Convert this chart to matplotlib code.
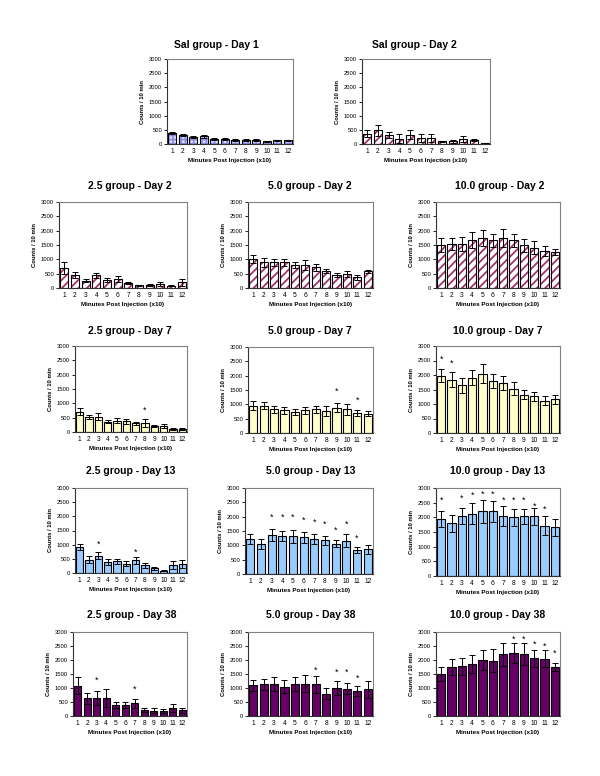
import matplotlib
matplotlib.use("Agg")
import matplotlib.pyplot as plt
import numpy as np

plt.rcParams["font.family"] = ["Liberation Sans", "DejaVu Sans"]
plt.rcParams["hatch.linewidth"] = 1.3

# ── Data: mean counts / 10 min and error (SEM), 12 bins of 10 min ────────────
minutes = list(range(1, 13))

sal_d1_mean = [390, 320, 240, 270, 170, 180, 140, 140, 130, 90, 130, 130]
sal_d1_err = [50, 40, 40, 60, 30, 30, 40, 30, 30, 20, 20, 20]
sal_d2_mean = [360, 480, 330, 190, 330, 210, 210, 90, 90, 170, 150, 40]
sal_d2_err = [130, 180, 110, 150, 160, 130, 150, 20, 40, 110, 40, 10]

g25_d2_mean = [690, 460, 250, 440, 280, 320, 170, 90, 110, 140, 80, 200]
g25_d2_err = [200, 100, 50, 80, 60, 110, 30, 10, 30, 80, 10, 120]
g50_d2_mean = [1010, 890, 890, 890, 790, 810, 720, 600, 460, 500, 370, 580]
g50_d2_err = [150, 150, 130, 120, 100, 170, 130, 80, 60, 100, 90, 50]
g10_d2_mean = [1500, 1530, 1540, 1680, 1740, 1660, 1750, 1670, 1490, 1410, 1290, 1250]
g10_d2_err = [260, 200, 240, 270, 290, 240, 310, 230, 220, 240, 180, 110]

g25_d7_mean = [710, 530, 540, 360, 390, 370, 300, 330, 200, 210, 110, 100]
g25_d7_err = [110, 80, 130, 60, 90, 90, 40, 140, 40, 80, 30, 30]
g50_d7_mean = [950, 950, 820, 790, 730, 790, 820, 770, 880, 830, 690, 680]
g50_d7_err = [160, 120, 110, 110, 100, 130, 130, 180, 150, 190, 110, 90]
g10_d7_mean = [1980, 1840, 1640, 1910, 2050, 1800, 1720, 1530, 1320, 1260, 1120, 1160]
g10_d7_err = [220, 270, 270, 270, 330, 240, 250, 230, 160, 160, 140, 160]

g25_d13_mean = [920, 470, 610, 390, 410, 330, 450, 270, 160, 80, 280, 330]
g25_d13_err = [110, 130, 120, 120, 100, 80, 120, 80, 60, 20, 150, 140]
g50_d13_mean = [1230, 1040, 1370, 1330, 1310, 1280, 1230, 1180, 1060, 1160, 840, 860]
g50_d13_err = [180, 170, 210, 180, 240, 200, 180, 160, 130, 230, 110, 150]
g10_d13_mean = [1950, 1800, 2050, 2120, 2200, 2200, 2050, 2000, 2030, 2030, 1720, 1660]
g10_d13_err = [280, 290, 270, 360, 400, 370, 340, 280, 260, 280, 320, 290]

g25_d38_mean = [1080, 630, 630, 640, 400, 390, 450, 210, 190, 190, 300, 210]
g25_d38_err = [300, 200, 250, 310, 110, 100, 160, 80, 80, 70, 140, 90]
g50_d38_mean = [1100, 1130, 1130, 1050, 1150, 1150, 1130, 800, 1000, 980, 900, 950]
g50_d38_err = [200, 200, 250, 230, 250, 300, 300, 200, 250, 200, 170, 300]
g10_d38_mean = [1500, 1750, 1780, 1850, 2000, 1980, 2200, 2250, 2220, 2060, 2050, 1750]
g10_d38_err = [250, 300, 300, 330, 350, 400, 400, 350, 400, 300, 300, 150]

# significance markers: bin, height of the asterisk
g25_d7_star_x, g25_d7_star_y = [8], [760]
g50_d7_star_x, g50_d7_star_y = [9, 11], [1460, 1160]
g10_d7_star_x, g10_d7_star_y = [1, 2], [2560, 2410]
g25_d13_star_x, g25_d13_star_y = [3, 7], [1020, 730]
g50_d13_star_x = [3, 4, 5, 6, 7, 8, 9, 10, 11]
g50_d13_star_y = [1970, 1970, 1970, 1890, 1800, 1720, 1540, 1720, 1250]
g10_d13_star_x = [1, 3, 4, 5, 6, 7, 8, 9, 10, 11]
g10_d13_star_y = [2580, 2640, 2750, 2790, 2790, 2580, 2580, 2580, 2370, 2260]
g25_d38_star_x, g25_d38_star_y = [3, 7], [1260, 970]
g50_d38_star_x, g50_d38_star_y = [7, 9, 10, 11], [1650, 1550, 1550, 1350]
g10_d38_star_x = [8, 9, 10, 11, 12]
g10_d38_star_y = [2750, 2750, 2550, 2500, 2250]

titles = [
    "Sal group - Day 1", "Sal group - Day 2",
    "2.5 group - Day 2", "5.0 group - Day 2", "10.0 group - Day 2",
    "2.5 group - Day 7", "5.0 group - Day 7", "10.0 group - Day 7",
    "2.5 group - Day 13", "5.0 group - Day 13", "10.0 group - Day 13",
    "2.5 group - Day 38", "5.0 group - Day 38", "10.0 group - Day 38",
]

# ── Styles per day ────────────────────────────────────────────────────────────
STYLE = {
    "d1": dict(face="#e4e4ff", hatch="++++", hcolor="#8f8fe6"),
    "d2": dict(face="white", hatch="////", hcolor="#a3336e"),
    "d7": dict(face="#ffffcc", hatch=None, hcolor=None),
    "d13": dict(face="#99ccff", hatch=None, hcolor=None),
    "d38": dict(face="#660066", hatch=None, hcolor=None),
}

W, H = 600, 776

panels = [
    # (mean, err, stars x, stars y, style, axes box l, r, top, bottom px, title x, title y)
    (sal_d1_mean, sal_d1_err, [], [], "d1", (167, 293, 59, 144), 216, 45),
    (sal_d2_mean, sal_d2_err, [], [], "d2", (362, 490, 59, 144), 414, 45),
    (g25_d2_mean, g25_d2_err, [], [], "d2", (59, 187, 202, 288), 130, 186),
    (g50_d2_mean, g50_d2_err, [], [], "d2", (248, 373, 202, 288), 310, 186),
    (g10_d2_mean, g10_d2_err, [], [], "d2", (436, 560, 202, 288), 500, 186),
    (g25_d7_mean, g25_d7_err, g25_d7_star_x, g25_d7_star_y, "d7", (75, 187, 346, 432), 130, 331),
    (g50_d7_mean, g50_d7_err, g50_d7_star_x, g50_d7_star_y, "d7", (248, 373, 347, 433), 310, 331),
    (g10_d7_mean, g10_d7_err, g10_d7_star_x, g10_d7_star_y, "d7", (436, 560, 346, 433), 498, 331),
    (g25_d13_mean, g25_d13_err, g25_d13_star_x, g25_d13_star_y, "d13", (75, 187, 488, 573), 131, 471),
    (g50_d13_mean, g50_d13_err, g50_d13_star_x, g50_d13_star_y, "d13", (245, 373, 488, 574), 311, 471),
    (g10_d13_mean, g10_d13_err, g10_d13_star_x, g10_d13_star_y, "d13", (436, 560, 488, 576), 498, 471),
    (g25_d38_mean, g25_d38_err, g25_d38_star_x, g25_d38_star_y, "d38", (73, 187, 632, 716), 132, 615),
    (g50_d38_mean, g50_d38_err, g50_d38_star_x, g50_d38_star_y, "d38", (248, 373, 632, 716), 311, 615),
    (g10_d38_mean, g10_d38_err, g10_d38_star_x, g10_d38_star_y, "d38", (436, 560, 632, 716), 498, 615),
]

fig = plt.figure(figsize=(W / 100, H / 100), dpi=100)
fig.patch.set_facecolor("white")

for (mean, err, sx, sy, day, box, tx, ty), title in zip(panels, titles):
    l, r, t, b = box
    ax = fig.add_axes([l / W, 1 - b / H, (r - l) / W, (b - t) / H])
    st = STYLE[day]
    width = 0.78

    if st["hatch"]:
        ax.bar(minutes, mean, width, color=st["face"], edgecolor=st["hcolor"],
               hatch=st["hatch"], linewidth=0, zorder=2)
        ax.bar(minutes, mean, width, fill=False, edgecolor="black",
               linewidth=0.8, zorder=3)
    else:
        ax.bar(minutes, mean, width, color=st["face"], edgecolor="black",
               linewidth=0.8, zorder=2)

    ax.errorbar(minutes, mean, yerr=err, fmt="none", ecolor="black",
                elinewidth=0.7, capsize=2.2, capthick=0.7, zorder=4)

    for x, y in zip(sx, sy):
        ax.text(x, y, "*", ha="center", va="center", fontsize=6.5, color="black")

    ax.set_xlim(0.5, 12.5)
    ax.set_ylim(0, 3000)
    ax.set_yticks(np.arange(0, 3001, 500))
    ax.set_xticks(minutes)
    ax.tick_params(axis="y", labelsize=4.2, length=2, width=0.6, pad=1.5, colors="black")
    ax.tick_params(axis="x", labelsize=4.8, length=0, pad=3)
    for sp in ax.spines.values():
        sp.set_color("#808080")
        sp.set_linewidth(0.8)
    ax.spines["left"].set_color("#333333")
    ax.spines["bottom"].set_color("#333333")

    ax.set_xlabel("Minutes Post Injection (x10)", fontsize=4.5, fontweight="bold", labelpad=2)
    ax.set_ylabel("Counts / 10 min", fontsize=4.2, fontweight="bold", labelpad=3)

    fig.text(tx / W, 1 - ty / H, title, ha="center", va="center",
             fontsize=7.5, fontweight="bold")

fig.savefig("out.png", dpi=100, facecolor="white")
